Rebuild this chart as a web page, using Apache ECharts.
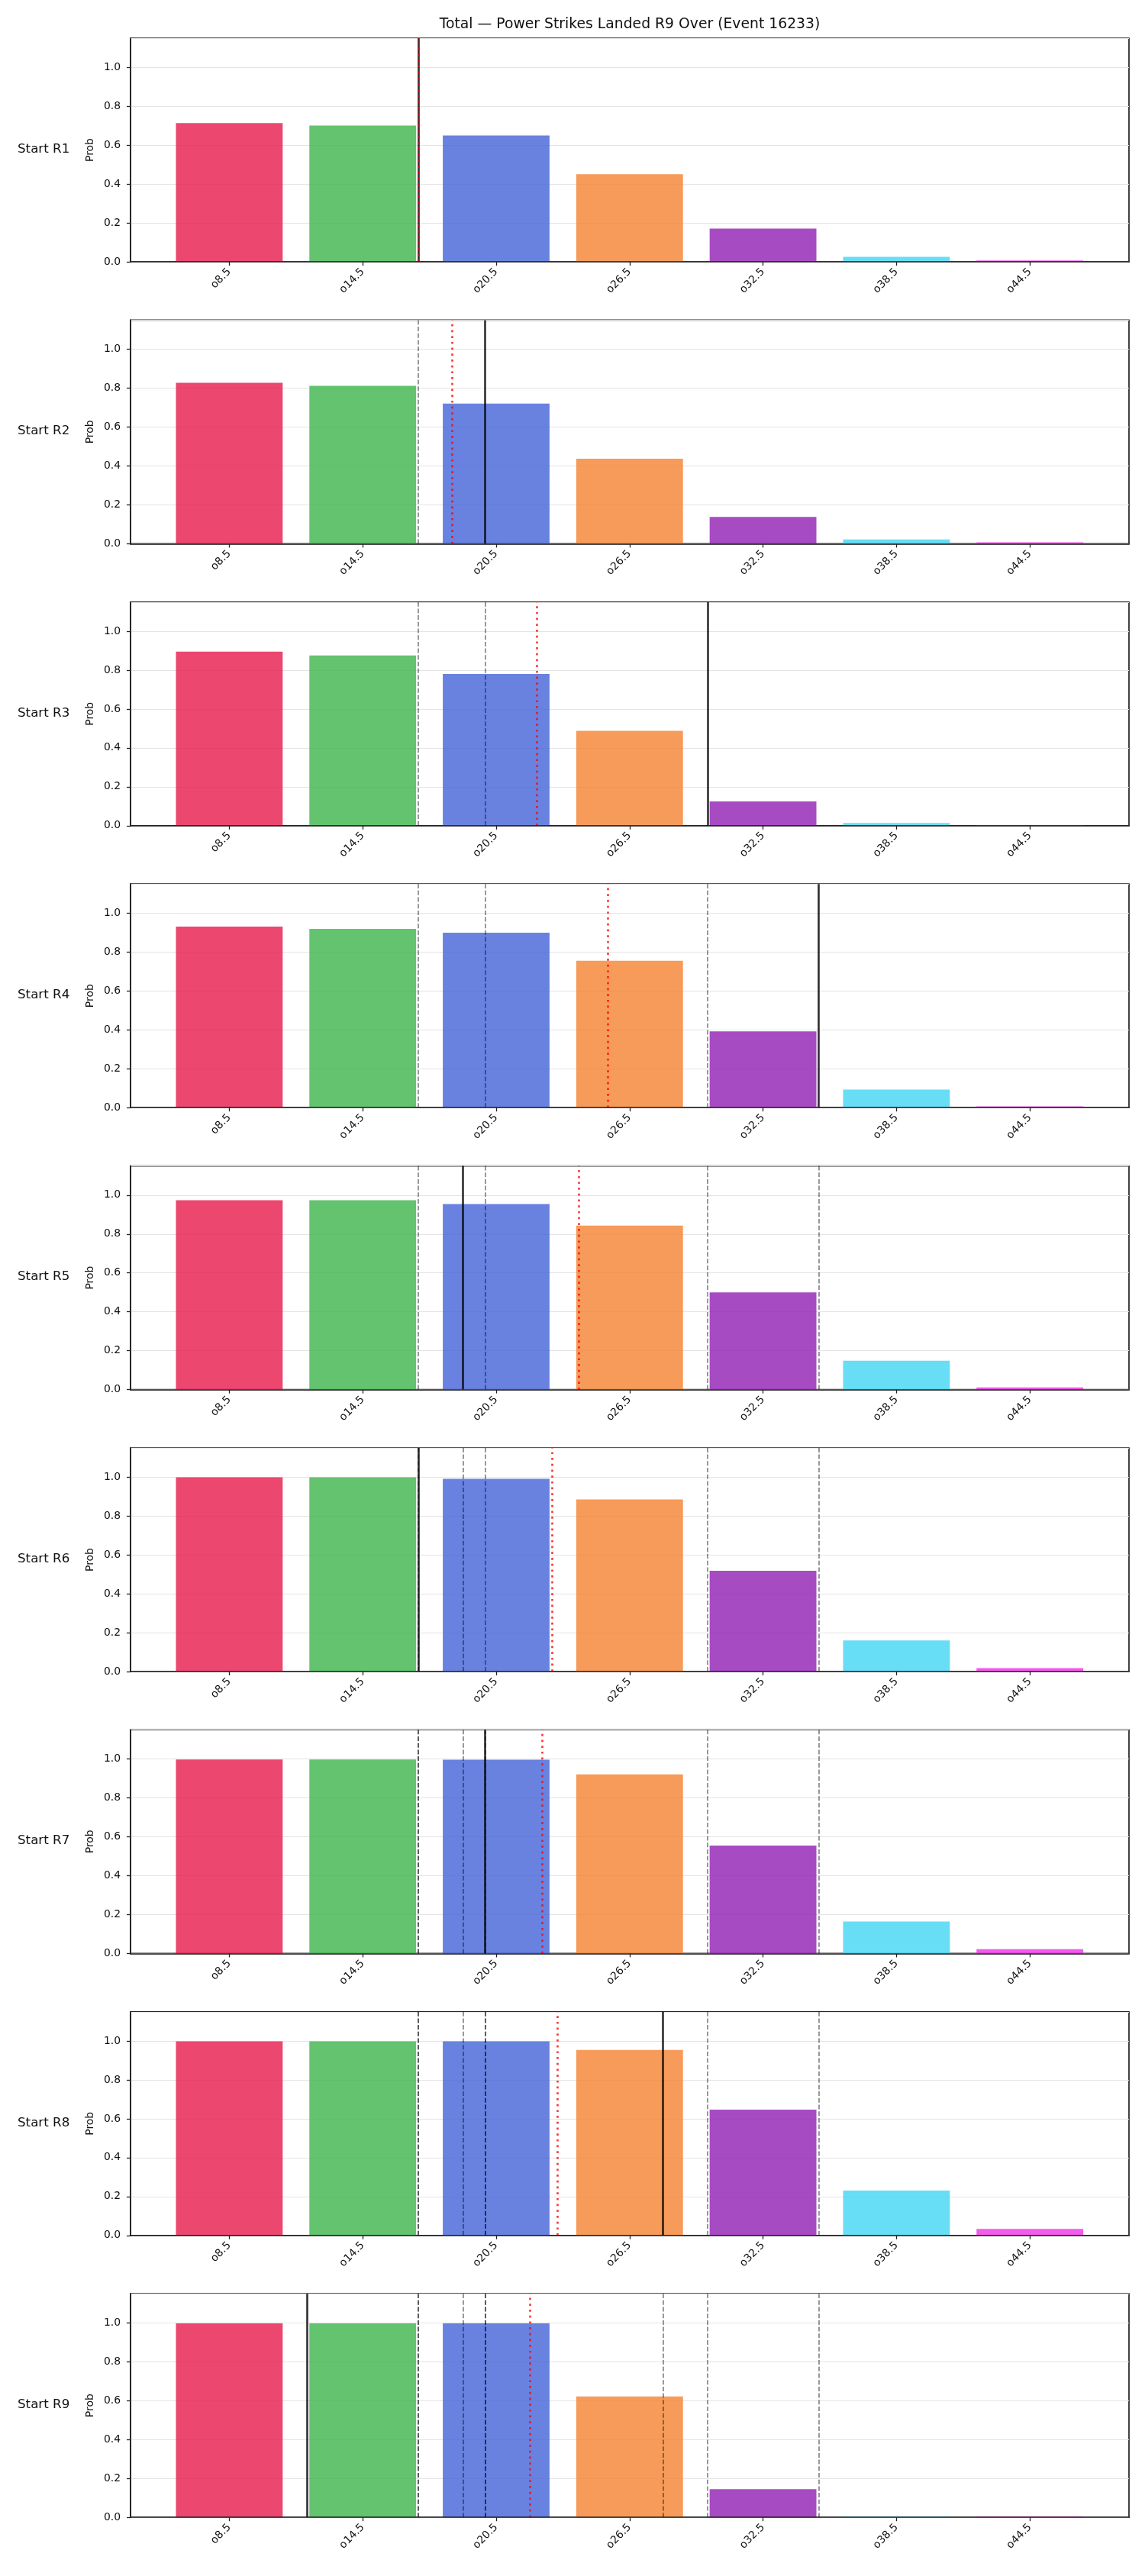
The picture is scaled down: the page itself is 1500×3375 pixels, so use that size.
<!DOCTYPE html>
<html>
<head>
<meta charset="utf-8">
<script src="https://cdn.jsdelivr.net/npm/echarts@6/dist/echarts.min.js"></script>
<style>
  html, body { margin: 0; padding: 0; background: #fff; }
  #chart { width: 1500px; height: 3375px; }
</style>
</head>
<body>
<div id="chart"></div>
<script>
var titleText = 'Total \u2014 Power Strikes Landed R9 Over (Event 16233)';
var categories = ['o8.5', 'o14.5', 'o20.5', 'o26.5', 'o32.5', 'o38.5', 'o44.5'];
var rounds = ['R1', 'R2', 'R3', 'R4', 'R5', 'R6', 'R7', 'R8', 'R9'];

// over probability per starting round
var probR1 = [0.713, 0.701, 0.650, 0.450, 0.171, 0.026, 0.007];
var probR2 = [0.828, 0.812, 0.721, 0.437, 0.138, 0.022, 0.007];
var probR3 = [0.895, 0.875, 0.780, 0.488, 0.125, 0.014, 0.003];
var probR4 = [0.931, 0.919, 0.900, 0.755, 0.392, 0.093, 0.007];
var probR5 = [0.974, 0.974, 0.954, 0.843, 0.500, 0.149, 0.011];
var probR6 = [0.999, 0.999, 0.991, 0.885, 0.518, 0.160, 0.018];
var probR7 = [0.998, 0.998, 0.997, 0.921, 0.555, 0.164, 0.022];
var probR8 = [0.998, 0.998, 0.998, 0.954, 0.647, 0.231, 0.034];
var probR9 = [0.998, 0.998, 0.998, 0.622, 0.145, 0.006, 0.006];
var probs = [probR1, probR2, probR3, probR4, probR5, probR6, probR7, probR8, probR9];

// strikes landed in each round (solid line) and running average (red dotted)
var roundStrikes = [17, 20, 30, 35, 19, 17, 20, 28, 12];
var runningAvg = [17, 18.5, 22.33, 25.5, 24.2, 23, 22.57, 23.25, 22];

var barColors = ['#e6194b', '#3cb44b', '#4363d8', '#f58231', '#911eb4', '#42d4f4', '#f032e6'];

var FONT = 'DejaVu Sans';
// frame of each panel and the inner band area used by the category axis
var frameLeft = 171, frameRight = 21, firstTop = 50, step = 369.4, plotH = 293;
var bandLeft = 213, bandWidth = 1223.6;
// strike scale that lines up with the category bands (o8.5 .. o44.5, 6 apart)
var strikeMin = 4.06, strikeMax = 48.94;

var grids = [], xAxes = [], yAxes = [], series = [], graphics = [];

graphics.push({
  type: 'text', x: 825, y: 32,
  style: { text: titleText, font: '18.8px "DejaVu Sans"', fill: '#111', align: 'center', verticalAlign: 'middle' }
});

for (var i = 0; i < rounds.length; i++) {
  var panelTop = firstTop + step * i;
  var outer = 2 * i, inner = 2 * i + 1;

  grids.push({
    left: frameLeft, right: frameRight, top: panelTop, height: plotH,
    show: true, borderColor: '#222', borderWidth: 1.7, backgroundColor: 'transparent'
  });
  grids.push({ left: bandLeft, width: bandWidth, top: panelTop, height: plotH });

  // outer axes: frame, y ticks, grid lines, vertical strike lines
  xAxes.push({
    gridIndex: outer, type: 'value', min: strikeMin, max: strikeMax, z: 10,
    axisLine: { show: true, onZero: false, lineStyle: { color: '#222', width: 1.7 } },
    axisTick: { show: false }, axisLabel: { show: false }, splitLine: { show: false }
  });
  yAxes.push({
    gridIndex: outer, type: 'value', min: 0, max: 1.15, interval: 0.2,
    name: 'Prob', nameLocation: 'middle', nameGap: 45,
    nameTextStyle: { fontFamily: FONT, fontSize: 13.9, color: '#111' },
    axisLine: { show: true, lineStyle: { color: '#222', width: 1.7 } },
    axisTick: { show: true, length: 5, lineStyle: { color: '#222', width: 1.3 } },
    axisLabel: {
      showMaxLabel: false, margin: 13, fontFamily: FONT, fontSize: 13.9, color: '#111',
      formatter: function (v) { return v.toFixed(1); }
    },
    splitLine: { show: true, lineStyle: { color: '#e4e4e4', width: 1.1 } }
  });

  // inner axes: categories + bars
  xAxes.push({
    gridIndex: inner, type: 'category', data: categories,
    axisLine: { show: false },
    axisTick: { show: true, alignWithLabel: true, length: 5, lineStyle: { color: '#222', width: 1.3 } },
    axisLabel: { rotate: 45, margin: 11, fontFamily: FONT, fontSize: 13.9, color: '#111', interval: 0 }
  });
  yAxes.push({ gridIndex: inner, type: 'value', min: 0, max: 1.15, show: false });

  series.push({
    type: 'bar', xAxisIndex: inner, yAxisIndex: inner, barWidth: '80%',
    itemStyle: { opacity: 0.8 },
    data: probs[i].map(function (v, k) {
      return { value: v, itemStyle: { color: barColors[k] } };
    })
  });

  var lines = [];
  for (var p = 0; p < i; p++) {
    lines.push({ xAxis: roundStrikes[p], lineStyle: { color: 'rgba(0,0,0,0.5)', width: 1.6, type: [6, 2.7] } });
  }
  lines.push({ xAxis: roundStrikes[i], lineStyle: { color: 'rgba(0,0,0,0.82)', width: 2.6, type: 'solid' } });
  lines.push({ xAxis: runningAvg[i], lineStyle: { color: 'rgba(255,0,0,0.8)', width: 2.6, type: [2.7, 5] } });

  series.push({
    type: 'line', xAxisIndex: outer, yAxisIndex: outer, data: [], z: 5,
    markLine: {
      silent: true, symbol: ['none', 'none'], label: { show: false },
      animation: false, data: lines
    }
  });

  graphics.push({
    type: 'text', x: 23, y: panelTop + plotH / 2 - 1,
    style: { text: 'Start ' + rounds[i], font: '16.7px "DejaVu Sans"', fill: '#111', verticalAlign: 'middle' }
  });
}

var myChart = echarts.init(document.getElementById('chart'));
myChart.setOption({
  animation: false,
  backgroundColor: '#fff',
  grid: grids,
  xAxis: xAxes,
  yAxis: yAxes,
  series: series,
  graphic: graphics
});
</script>
</body>
</html>
